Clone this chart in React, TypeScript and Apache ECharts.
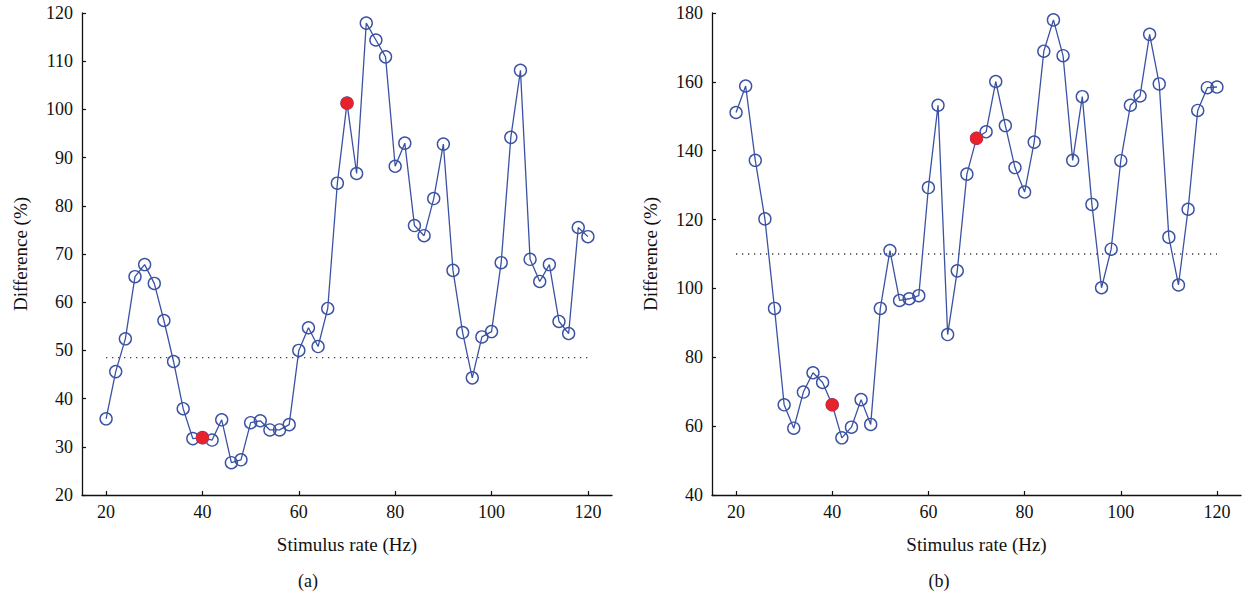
import React, { useEffect, useRef } from "react";
import * as echarts from "echarts";

const rates = [20,22,24,26,28,30,32,34,36,38,40,42,44,46,48,50,52,54,56,58,60,62,64,66,68,70,72,74,76,78,80,82,84,86,88,90,92,94,96,98,100,102,104,106,108,110,112,114,116,118,120];

const diffA = [35.8,45.6,52.4,65.3,67.8,63.9,56.2,47.7,37.9,31.7,31.9,31.4,35.6,26.7,27.3,35.0,35.4,33.5,33.5,34.6,50.0,54.7,50.8,58.7,84.7,101.3,86.7,117.9,114.4,110.9,88.2,93.0,75.9,73.8,81.5,92.8,66.6,53.7,44.3,52.8,53.9,68.2,94.2,108.1,68.9,64.3,67.8,56.0,53.5,75.5,73.6];

const diffB = [151.1,158.8,137.2,120.2,94.2,66.2,59.4,69.9,75.5,72.7,66.2,56.6,59.7,67.7,60.5,94.2,111.0,96.5,97.0,97.9,129.3,153.2,86.6,105.1,133.2,143.6,145.5,160.1,147.3,135.1,128.0,142.5,168.9,178.0,167.6,137.2,155.7,124.4,100.2,111.4,137.1,153.2,155.9,173.8,159.4,114.9,101.0,123.0,151.7,158.3,158.5];

const highlightRates = [40, 70];
const thresholdA = 48.5;
const thresholdB = 110;
const xTicks = [20, 40, 60, 80, 100, 120];
const panelLabels = ["(a)", "(b)"];

const FONT = "Liberation Serif";
const BLUE = "#3b52a3";
const RED = "#e8222b";

export default function App() {
  const ref = useRef<HTMLDivElement>(null);
  useEffect(() => {
    if (!ref.current) return;
    const chart = echarts.init(ref.current, undefined, { renderer: "svg" });
    const axisText = { fontFamily: FONT, fontSize: 18, color: "#111" };
    const mkX = (gridIndex: number) => ({
      type: "value",
      gridIndex,
      min: 15,
      max: 125,
      name: "Stimulus rate (Hz)",
      nameLocation: "middle",
      nameGap: 40,
      nameTextStyle: { ...axisText, fontSize: 19 },
      axisLine: { show: true, lineStyle: { color: "#111", width: 1.3 } },
      axisTick: { show: true, inside: true, length: 4, customValues: xTicks, lineStyle: { color: "#111", width: 1.2 } },
      axisLabel: { ...axisText, margin: 8, customValues: xTicks },
      splitLine: { show: false },
    });
    const mkY = (gridIndex: number, min: number, max: number, interval: number) => ({
      type: "value",
      gridIndex,
      min,
      max,
      interval,
      name: "Difference (%)",
      nameLocation: "middle",
      nameGap: 52,
      nameTextStyle: { ...axisText, fontSize: 19 },
      axisLine: { show: true, lineStyle: { color: "#111", width: 1.3 } },
      axisTick: { show: true, inside: true, length: 4, lineStyle: { color: "#111", width: 1.2 } },
      axisLabel: { ...axisText, margin: 9 },
      splitLine: { show: false },
    });
    const lineSeries = (idx: number, vals: number[]) => ({
      type: "line",
      xAxisIndex: idx,
      yAxisIndex: idx,
      data: rates.map((r, i) => [r, vals[i]]),
      symbol: "circle",
      symbolSize: 12,
      itemStyle: { color: "rgba(0,0,0,0)", borderColor: BLUE, borderWidth: 1.4 },
      lineStyle: { color: BLUE, width: 1.3 },
      z: 3,
    });
    const redSeries = (idx: number, vals: number[]) => ({
      type: "scatter",
      xAxisIndex: idx,
      yAxisIndex: idx,
      data: highlightRates.map((r) => [r, vals[rates.indexOf(r)]]),
      symbol: "circle",
      symbolSize: 13,
      itemStyle: { color: RED, opacity: 1 },
      z: 5,
    });
    const dotted = (idx: number, v: number) => ({
      type: "line",
      xAxisIndex: idx,
      yAxisIndex: idx,
      data: [[xTicks[0], v], [xTicks[xTicks.length - 1], v]],
      symbol: "none",
      lineStyle: { color: "#333", width: 1.4, type: [1.2, 4.8] },
      z: 2,
    });
    chart.setOption({
      animation: false,
      grid: [
        { left: 82, right: 631, top: 13, bottom: 103 },
        { left: 712, right: 2, top: 13, bottom: 103 },
      ],
      xAxis: [mkX(0), mkX(1)],
      yAxis: [mkY(0, 20, 120, 10), mkY(1, 40, 180, 20)],
      series: [
        dotted(0, thresholdA),
        lineSeries(0, diffA),
        redSeries(0, diffA),
        dotted(1, thresholdB),
        lineSeries(1, diffB),
        redSeries(1, diffB),
      ],
      graphic: [
        { type: "text", x: 308, y: 581, style: { text: panelLabels[0], fontFamily: FONT, fontSize: 18, fill: "#111", align: "center", verticalAlign: "middle" } },
        { type: "text", x: 939, y: 581, style: { text: panelLabels[1], fontFamily: FONT, fontSize: 18, fill: "#111", align: "center", verticalAlign: "middle" } },
      ],
    });
    return () => chart.dispose();
  }, []);
  return <div ref={ref} style={{ position: "fixed", left: 0, top: 0, width: 1243, height: 598, background: "#fff" }} />;
}
